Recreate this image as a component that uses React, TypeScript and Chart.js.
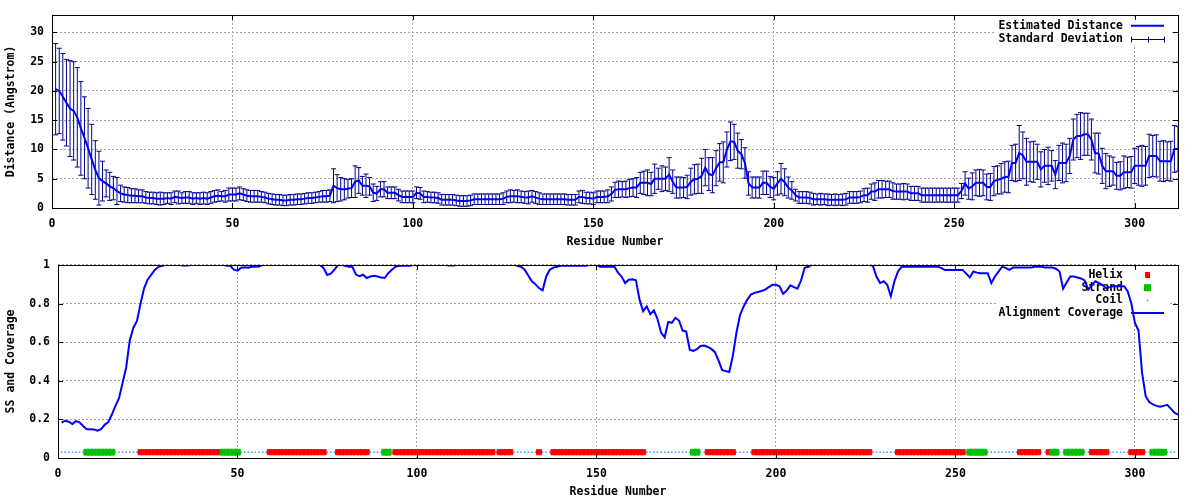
import React, { useEffect, useRef } from "react";
import { Chart, registerables } from "chart.js";

Chart.register(...registerables);

const FONT = "'DejaVu Sans Mono', 'Liberation Mono', monospace";

// ---------- data ----------
const residueCount = 312;
const residues: number[] = Array.from({ length: residueCount }, (_, i) => i + 1);

const xTickStep = 50;
const xMax = 312;
const distYMax = 33;
const distYStep = 5;
const covYStep = 0.2;
const ssLevel = 0.03;

const distMean: number[] = [
  20.3, 20.0, 19.0, 18.0, 17.0, 16.6, 15.5, 13.6, 12.0, 10.2,
  8.3, 6.5, 5.1, 4.6, 4.2, 3.7, 3.4, 2.9, 2.5, 2.3,
  2.2, 2.1, 2.1, 2.0, 2.0, 1.8, 1.7, 1.7, 1.6, 1.6,
  1.6, 1.7, 1.6, 1.9, 1.8, 1.7, 1.8, 1.8, 1.6, 1.7,
  1.6, 1.7, 1.6, 1.8, 2.0, 2.1, 2.0, 2.0, 2.3, 2.3,
  2.3, 2.5, 2.3, 2.1, 2.0, 2.0, 2.0, 1.9, 1.8, 1.6,
  1.5, 1.4, 1.4, 1.3, 1.3, 1.4, 1.4, 1.5, 1.5, 1.6,
  1.7, 1.7, 1.8, 1.9, 2.0, 2.0, 2.1, 3.8, 3.4, 3.2,
  3.2, 3.3, 3.4, 4.5, 4.7, 3.8, 3.8, 3.7, 2.6, 2.5,
  3.2, 3.2, 2.6, 2.6, 2.6, 2.2, 1.9, 1.9, 1.9, 1.9,
  2.6, 2.5, 1.9, 1.9, 1.8, 1.8, 1.7, 1.4, 1.4, 1.4,
  1.4, 1.3, 1.2, 1.2, 1.2, 1.3, 1.5, 1.5, 1.5, 1.5,
  1.5, 1.5, 1.5, 1.5, 1.6, 1.9, 2.0, 2.0, 2.0, 1.9,
  1.8, 1.8, 2.0, 1.8, 1.6, 1.5, 1.5, 1.5, 1.5, 1.5,
  1.5, 1.5, 1.4, 1.4, 1.4, 1.9, 1.9, 1.7, 1.7, 1.6,
  1.9, 1.9, 1.9, 2.0, 2.4, 3.1, 3.2, 3.2, 3.2, 3.4,
  3.5, 3.5, 4.3, 4.3, 4.3, 4.1, 5.0, 5.0, 5.0, 5.0,
  5.7, 4.5, 3.5, 3.5, 3.5, 3.6, 4.5, 4.9, 5.0, 5.5,
  6.9, 5.8, 5.6, 6.8, 7.8, 7.8, 10.0, 11.4, 11.3, 9.8,
  9.2, 7.7, 4.2, 3.5, 3.5, 3.5, 4.3, 4.3, 3.6, 3.3,
  4.2, 5.0, 4.4, 3.5, 3.0, 2.2, 1.8, 1.8, 1.8, 1.7,
  1.5, 1.5, 1.5, 1.5, 1.4, 1.4, 1.4, 1.4, 1.4, 1.5,
  1.8, 1.8, 1.8, 1.9, 2.2, 2.2, 2.8, 2.8, 3.2, 3.2,
  3.2, 3.2, 2.9, 2.8, 2.8, 2.8, 2.8, 2.5, 2.5, 2.5,
  2.2, 2.2, 2.2, 2.2, 2.2, 2.2, 2.2, 2.2, 2.2, 2.2,
  2.2, 2.9, 4.2, 3.3, 3.7, 4.3, 4.3, 4.3, 3.6, 3.6,
  4.6, 4.8, 5.0, 5.3, 5.3, 7.7, 7.7, 9.4, 9.0, 7.9,
  7.9, 7.9, 7.9, 6.6, 7.2, 7.2, 7.2, 5.7, 7.7, 7.7,
  7.7, 8.9, 11.7, 12.3, 12.3, 12.6, 12.6, 11.7, 9.4, 9.3,
  7.2, 6.3, 6.3, 6.3, 5.5, 5.5, 6.1, 6.1, 6.1, 7.2,
  7.2, 7.2, 7.2, 8.9, 8.9, 8.9, 8.0, 8.0, 8.0, 8.0,
  10.1, 10.1,
];

const distStd: number[] = [
  7.8, 7.3, 7.4, 7.4, 8.2, 8.4, 8.5, 8.0, 7.0, 6.8,
  6.0, 5.0, 4.6, 3.4, 2.3, 2.4, 2.0, 2.3, 1.4, 1.3,
  1.3, 1.2, 1.2, 1.1, 1.1, 1.0, 1.0, 1.0, 1.0, 1.1,
  1.0, 0.9, 1.0, 1.0, 1.1, 0.9, 1.0, 1.0, 1.0, 0.9,
  1.0, 1.0, 1.0, 1.0, 1.0, 1.0, 0.8, 1.0, 1.1, 1.1,
  1.1, 1.1, 1.0, 1.0, 1.0, 1.0, 1.0, 0.9, 0.9, 0.9,
  0.9, 0.9, 0.9, 0.9, 0.9, 0.9, 0.9, 0.9, 0.9, 0.9,
  0.9, 0.9, 0.9, 0.9, 1.0, 1.0, 1.0, 2.9, 2.3, 2.0,
  1.8, 1.6, 1.6, 2.7, 2.2, 1.6, 2.0, 1.5, 1.5, 1.2,
  1.3, 1.3, 1.0, 1.0, 1.0, 1.0, 1.0, 1.0, 1.0, 1.0,
  1.0, 1.0, 1.0, 0.9, 0.9, 0.9, 0.9, 0.9, 0.9, 0.9,
  0.9, 0.9, 0.9, 0.9, 0.9, 0.9, 0.9, 0.9, 0.9, 0.9,
  0.9, 0.9, 0.9, 0.9, 1.0, 1.0, 1.1, 1.0, 1.1, 1.0,
  1.0, 1.1, 1.0, 1.0, 1.0, 0.9, 0.9, 0.9, 0.9, 0.9,
  0.9, 0.9, 0.9, 0.9, 0.9, 1.0, 1.1, 1.0, 1.0, 1.0,
  1.0, 1.0, 1.0, 1.1, 1.2, 1.3, 1.4, 1.3, 1.4, 1.5,
  1.5, 1.7, 1.8, 2.0, 2.2, 2.0, 2.5, 1.8, 2.2, 2.0,
  2.9, 2.0, 1.8, 1.8, 1.7, 2.0, 2.3, 2.5, 2.5, 3.0,
  3.1, 2.8, 3.0, 3.0, 3.2, 3.5, 3.0, 3.3, 3.0, 3.0,
  2.5, 2.6, 2.0, 1.8, 1.8, 1.8, 2.0, 2.0, 1.8, 1.9,
  2.0, 2.6, 2.3, 1.8, 1.5, 1.0, 1.0, 1.0, 1.0, 1.0,
  1.0, 0.9, 1.0, 0.9, 1.0, 0.9, 1.0, 0.9, 1.0, 1.0,
  1.0, 1.0, 1.0, 1.0, 1.1, 1.2, 1.3, 1.5, 1.5, 1.5,
  1.4, 1.4, 1.4, 1.3, 1.3, 1.4, 1.3, 1.2, 1.2, 1.2,
  1.2, 1.2, 1.2, 1.2, 1.2, 1.2, 1.2, 1.2, 1.2, 1.2,
  1.2, 1.3, 2.0, 1.8, 2.3, 2.2, 2.3, 2.2, 2.2, 2.3,
  2.5, 2.4, 2.6, 2.6, 2.7, 3.0, 3.2, 4.7, 4.0, 4.0,
  3.4, 3.5, 3.0, 3.0, 2.8, 3.2, 2.6, 2.4, 3.0, 3.4,
  3.2, 3.0, 3.5, 3.7, 4.0, 3.6, 3.6, 3.5, 3.4, 3.5,
  3.0, 3.0, 2.6, 2.4, 2.3, 2.4, 2.8, 2.6, 2.7, 3.0,
  3.3, 3.5, 3.3, 3.7, 3.5, 3.6, 3.4, 3.5, 3.3, 3.4,
  4.0, 3.8,
];

const coverage: number[] = [
  0.183, 0.193, 0.188, 0.176, 0.191, 0.185, 0.166, 0.149, 0.149, 0.148,
  0.142, 0.149, 0.172, 0.186, 0.225, 0.27, 0.31, 0.39, 0.47, 0.61,
  0.675, 0.71, 0.8, 0.88, 0.925, 0.95, 0.975, 0.99, 0.995, 1.0,
  1.0, 1.0, 1.0, 1.0, 0.997, 0.997, 1.0, 1.0, 1.0, 1.0,
  1.0, 1.0, 1.0, 1.0, 1.0, 1.0, 0.995, 0.995, 0.975, 0.97,
  0.985, 0.988, 0.985, 0.99, 0.99, 0.992, 1.0, 1.0, 1.0, 1.0,
  1.0, 1.0, 1.0, 1.0, 1.0, 1.0, 1.0, 1.0, 1.0, 1.0,
  1.0, 1.0, 1.0, 0.983, 0.948, 0.955, 0.975, 1.0, 1.0, 0.995,
  0.991, 0.99, 0.95, 0.942, 0.949, 0.932, 0.94, 0.944, 0.94, 0.935,
  0.932, 0.957, 0.975, 0.99, 0.995, 0.995, 0.995, 0.995, 1.0, 1.0,
  1.0, 1.0, 1.0, 1.0, 1.0, 1.0, 1.0, 1.0, 0.997, 0.997,
  1.0, 1.0, 1.0, 1.0, 1.0, 1.0, 1.0, 1.0, 1.0, 1.0,
  1.0, 1.0, 1.0, 1.0, 1.0, 1.0, 1.0, 0.995, 0.99, 0.975,
  0.945, 0.915, 0.9, 0.88, 0.868, 0.94, 0.975, 0.986, 0.99, 0.995,
  0.995, 0.995, 0.995, 0.995, 0.995, 0.995, 0.995, 1.0, 1.0, 1.0,
  0.991, 0.991, 0.991, 0.991, 0.991, 0.96, 0.94, 0.906, 0.923, 0.925,
  0.92, 0.82, 0.76, 0.785, 0.745, 0.765, 0.72, 0.65, 0.625, 0.705,
  0.7, 0.726, 0.712, 0.66, 0.655, 0.56, 0.555, 0.564, 0.58, 0.582,
  0.575, 0.565, 0.548, 0.505, 0.455, 0.45, 0.445, 0.53, 0.65, 0.74,
  0.785, 0.82, 0.846, 0.855, 0.86, 0.865, 0.872, 0.885, 0.897, 0.897,
  0.889, 0.85, 0.867, 0.894, 0.885, 0.877, 0.92, 0.985, 0.99, 1.0,
  1.0, 1.0, 1.0, 1.0, 1.0, 1.0, 1.0, 1.0, 1.0, 1.0,
  1.0, 1.0, 1.0, 1.0, 1.0, 1.0, 0.995, 0.94, 0.906, 0.915,
  0.897, 0.838, 0.915, 0.966, 0.991, 0.991, 0.991, 0.991, 0.991, 0.991,
  0.991, 0.991, 0.991, 0.991, 0.991, 0.985, 0.974, 0.974, 0.974, 0.974,
  0.974, 0.974, 0.955, 0.935, 0.966, 0.96, 0.957, 0.957, 0.957, 0.906,
  0.94, 0.965, 0.991, 0.985, 0.974, 0.986, 0.986, 0.986, 0.986, 0.986,
  0.986, 0.99, 0.99, 0.99, 0.986, 0.986, 0.986, 0.98, 0.966, 0.877,
  0.91, 0.94, 0.94, 0.935, 0.93, 0.92, 0.872, 0.895, 0.915, 0.905,
  0.895, 0.88, 0.885, 0.889, 0.889, 0.889, 0.889, 0.863, 0.8, 0.7,
  0.66, 0.44, 0.32, 0.29, 0.278, 0.27, 0.265, 0.27, 0.275, 0.256,
  0.235, 0.225,
];

// secondary structure segments [first residue, last residue]
const ssLastResidue = 311;
const helixSegments: [number, number][] = [
  [23, 45], [59, 74], [78, 86], [94, 121], [123, 126], [134, 134], [138, 163],
  [181, 188], [194, 226], [234, 252], [268, 273], [276, 276], [288, 292], [299, 302],
];
const strandSegments: [number, number][] = [
  [8, 15], [46, 50], [91, 92], [177, 178], [254, 258], [277, 278], [281, 285], [305, 308],
];

// ---------- helpers ----------
const inSegs = (r: number, segs: [number, number][]) => segs.some(([a, b]) => r >= a && r <= b);
const ssResidues = residues.filter((r) => r <= ssLastResidue);
const helixPts = ssResidues.filter((r) => inSegs(r, helixSegments)).map((r) => ({ x: r, y: ssLevel }));
const strandPts = ssResidues.filter((r) => inSegs(r, strandSegments)).map((r) => ({ x: r, y: ssLevel }));
const coilPts = ssResidues
  .filter((r) => !inSegs(r, helixSegments) && !inSegs(r, strandSegments))
  .map((r) => ({ x: r, y: ssLevel }));

const BLUE = "#0000ff";
const NAVY = "#00008b";
const RED = "#ff0000";
const GREEN = "#00c000";
const COIL = "#1e90ff";
const GRID = "#a0a0a0";
const tickFont = { family: FONT, size: 11.5, weight: "bold" as const };

type KeyItem = { label: string; kind: "line" | "errbar" | "helix" | "strand" | "coil" };

function makeFramePlugin() {
  return {
    id: "gframe",
    afterDatasetsDraw(chart: any) {
      const { ctx, chartArea } = chart;
      const { left, right, top, bottom } = chartArea;
      const xs = chart.scales.x;
      const ys = chart.scales.y;
      ctx.save();
      ctx.strokeStyle = "#000";
      ctx.lineWidth = 1;
      ctx.beginPath();
      const L = 5;
      xs.ticks.forEach((t: any) => {
        const px = Math.round(xs.getPixelForValue(t.value)) + 0.5;
        ctx.moveTo(px, bottom);
        ctx.lineTo(px, bottom - L);
        ctx.moveTo(px, top);
        ctx.lineTo(px, top + L);
      });
      ys.ticks.forEach((t: any) => {
        const py = Math.round(ys.getPixelForValue(t.value)) + 0.5;
        ctx.moveTo(left, py);
        ctx.lineTo(left + L, py);
        ctx.moveTo(right, py);
        ctx.lineTo(right - L, py);
      });
      ctx.stroke();
      ctx.strokeRect(
        Math.round(left) + 0.5,
        Math.round(top) + 0.5,
        Math.round(right) - Math.round(left),
        Math.round(bottom) - Math.round(top)
      );
      ctx.restore();
    },
  };
}

function makeKeyPlugin(items: KeyItem[], y0: number, dy: number, box: { x: number; y: number; w: number; h: number }) {
  return {
    id: "gkey",
    beforeDatasetsDraw(chart: any) {
      const { ctx } = chart;
      ctx.save();
      ctx.fillStyle = "#fff";
      ctx.fillRect(box.x, box.y, box.w, box.h);
      ctx.font = `bold 11.5px ${FONT}`;
      ctx.textAlign = "right";
      ctx.textBaseline = "middle";
      const textRight = 1123;
      const s1 = 1131;
      const s2 = 1164;
      const sm = 1147.5;
      items.forEach((it, i) => {
        const y = y0 + i * dy;
        ctx.fillStyle = "#000";
        ctx.fillText(it.label, textRight, y);
        if (it.kind === "line") {
          ctx.strokeStyle = BLUE;
          ctx.lineWidth = 2;
          ctx.beginPath();
          ctx.moveTo(s1, y);
          ctx.lineTo(s2, y);
          ctx.stroke();
        } else if (it.kind === "errbar") {
          ctx.strokeStyle = NAVY;
          ctx.lineWidth = 1;
          const yy = Math.round(y) + 0.5;
          ctx.beginPath();
          ctx.moveTo(s1, yy);
          ctx.lineTo(s2, yy);
          [s1, sm, s2].forEach((xx) => {
            const px = Math.round(xx) + 0.5;
            ctx.moveTo(px, yy - 3);
            ctx.lineTo(px, yy + 3);
          });
          ctx.stroke();
        } else if (it.kind === "helix") {
          ctx.fillStyle = RED;
          ctx.fillRect(sm - 2.5, y - 3, 5, 6);
        } else if (it.kind === "strand") {
          ctx.fillStyle = GREEN;
          ctx.fillRect(sm - 3.5, y - 3.5, 7, 7);
        } else if (it.kind === "coil") {
          ctx.fillStyle = COIL;
          ctx.fillRect(sm - 0.75, y - 0.75, 1.5, 1.5);
        }
      });
      ctx.restore();
    },
  };
}

function xScaleOpts(height: number) {
  return {
    type: "linear" as const,
    min: 0,
    max: xMax,
    offset: false,
    afterFit: (s: any) => {
      s.height = height;
    },
    ticks: {
      stepSize: xTickStep,
      includeBounds: false,
      maxRotation: 0,
      autoSkip: false,
      color: "#000",
      font: tickFont,
      padding: 9,
    },
    grid: { color: GRID, lineWidth: 1, drawTicks: false, offset: false },
    border: { display: false, dash: [2, 2] },
    title: {
      display: true,
      text: "Residue Number",
      color: "#000",
      font: tickFont,
      padding: { top: 0, bottom: 1 },
    },
  };
}

function topConfig(): any {
  const stems = residues.map((r, i) => ({ x: r, y: [distMean[i] - distStd[i], distMean[i] + distStd[i]] }));
  const caps: { x: number; y: number }[] = [];
  residues.forEach((r, i) => {
    caps.push({ x: r, y: distMean[i] - distStd[i] });
    caps.push({ x: r, y: distMean[i] + distStd[i] });
  });
  return {
    type: "line",
    data: {
      datasets: [
        {
          label: "Estimated Distance",
          data: residues.map((r, i) => ({ x: r, y: distMean[i] })),
          borderColor: BLUE,
          borderWidth: 2,
          pointRadius: 0,
          tension: 0,
          fill: false,
        },
        {
          label: "Standard Deviation caps",
          data: caps,
          showLine: false,
          pointStyle: "line",
          pointRadius: 2.5,
          pointBorderWidth: 1,
          pointBorderColor: NAVY,
          pointBackgroundColor: NAVY,
          clip: 0,
        },
        {
          type: "bar",
          label: "Standard Deviation",
          data: stems,
          backgroundColor: NAVY,
          borderWidth: 0,
          barThickness: 1,
          inflateAmount: 0,
          clip: 0,
        },
      ],
    },
    options: {
      responsive: true,
      maintainAspectRatio: false,
      animation: false,
      events: [],
      layout: { padding: { top: 14, right: 22, bottom: 0, left: 0 }, autoPadding: false },
      plugins: { legend: { display: false }, tooltip: { enabled: false } },
      scales: {
        x: xScaleOpts(42),
        y: {
          type: "linear",
          min: 0,
          max: distYMax,
          afterFit: (s: any) => {
            s.width = 52;
          },
          ticks: {
            stepSize: distYStep,
            includeBounds: false,
            color: "#000",
            font: tickFont,
            padding: 8,
          },
          grid: { color: GRID, lineWidth: 1, drawTicks: false },
          border: { display: false, dash: [2, 2] },
          title: {
            display: true,
            text: "Distance (Angstrom)",
            color: "#000",
            font: tickFont,
            padding: { top: 4, bottom: 0 },
          },
        },
      },
    },
    plugins: [
      makeKeyPlugin(
        [
          { label: "Estimated Distance", kind: "line" },
          { label: "Standard Deviation", kind: "errbar" },
        ],
        25.7,
        13.3,
        { x: 996, y: 18, w: 174, h: 28 }
      ),
      makeFramePlugin(),
    ],
  };
}

function bottomConfig(): any {
  return {
    type: "line",
    data: {
      datasets: [
        {
          label: "Alignment Coverage",
          data: residues.map((r, i) => ({ x: r, y: coverage[i] })),
          borderColor: BLUE,
          borderWidth: 2,
          pointRadius: 0,
          tension: 0,
          fill: false,
        },
        {
          label: "Strand",
          data: strandPts,
          showLine: false,
          pointStyle: "rect",
          pointRadius: 4.1,
          pointBorderWidth: 1,
          pointBorderColor: GREEN,
          pointBackgroundColor: GREEN,
        },
        {
          label: "Helix",
          data: helixPts,
          showLine: false,
          pointStyle: "rect",
          pointRadius: 3.6,
          pointBorderWidth: 1,
          pointBorderColor: RED,
          pointBackgroundColor: RED,
        },
        {
          label: "Coil",
          data: coilPts,
          showLine: false,
          pointStyle: "rect",
          pointRadius: 1,
          pointBorderWidth: 0,
          pointBackgroundColor: COIL,
        },
      ],
    },
    options: {
      responsive: true,
      maintainAspectRatio: false,
      animation: false,
      events: [],
      layout: { padding: { top: 13, right: 22, bottom: 0, left: 0 }, autoPadding: false },
      plugins: { legend: { display: false }, tooltip: { enabled: false } },
      scales: {
        x: xScaleOpts(42),
        y: {
          type: "linear",
          min: 0,
          max: 1,
          afterFit: (s: any) => {
            s.width = 58;
          },
          ticks: {
            stepSize: covYStep,
            color: "#000",
            font: tickFont,
            padding: 8,
            callback: (v: any) => `${Math.round(Number(v) * 10) / 10}`,
          },
          grid: { color: GRID, lineWidth: 1, drawTicks: false },
          border: { display: false, dash: [2, 2] },
          title: {
            display: true,
            text: "SS and Coverage",
            color: "#000",
            font: tickFont,
            padding: { top: 4, bottom: 0 },
          },
        },
      },
    },
    plugins: [
      makeKeyPlugin(
        [
          { label: "Helix", kind: "helix" },
          { label: "Strand", kind: "strand" },
          { label: "Coil", kind: "coil" },
          { label: "Alignment Coverage", kind: "line" },
        ],
        25,
        12.7,
        { x: 996, y: 17, w: 174, h: 52 }
      ),
      makeFramePlugin(),
    ],
  };
}

export default function App() {
  const topRef = useRef<HTMLCanvasElement>(null);
  const botRef = useRef<HTMLCanvasElement>(null);
  useEffect(() => {
    Chart.defaults.font.family = FONT;
    const c1 = new Chart(topRef.current as HTMLCanvasElement, topConfig());
    const c2 = new Chart(botRef.current as HTMLCanvasElement, bottomConfig());
    return () => {
      c1.destroy();
      c2.destroy();
    };
  }, []);
  return (
    <div style={{ position: "absolute", left: 0, top: 0, width: 1200, height: 500, background: "#fff" }}>
      <div style={{ position: "absolute", left: 0, top: 0, width: 1200, height: 250 }}>
        <canvas ref={topRef} />
      </div>
      <div style={{ position: "absolute", left: 0, top: 250, width: 1200, height: 250 }}>
        <canvas ref={botRef} />
      </div>
    </div>
  );
}
